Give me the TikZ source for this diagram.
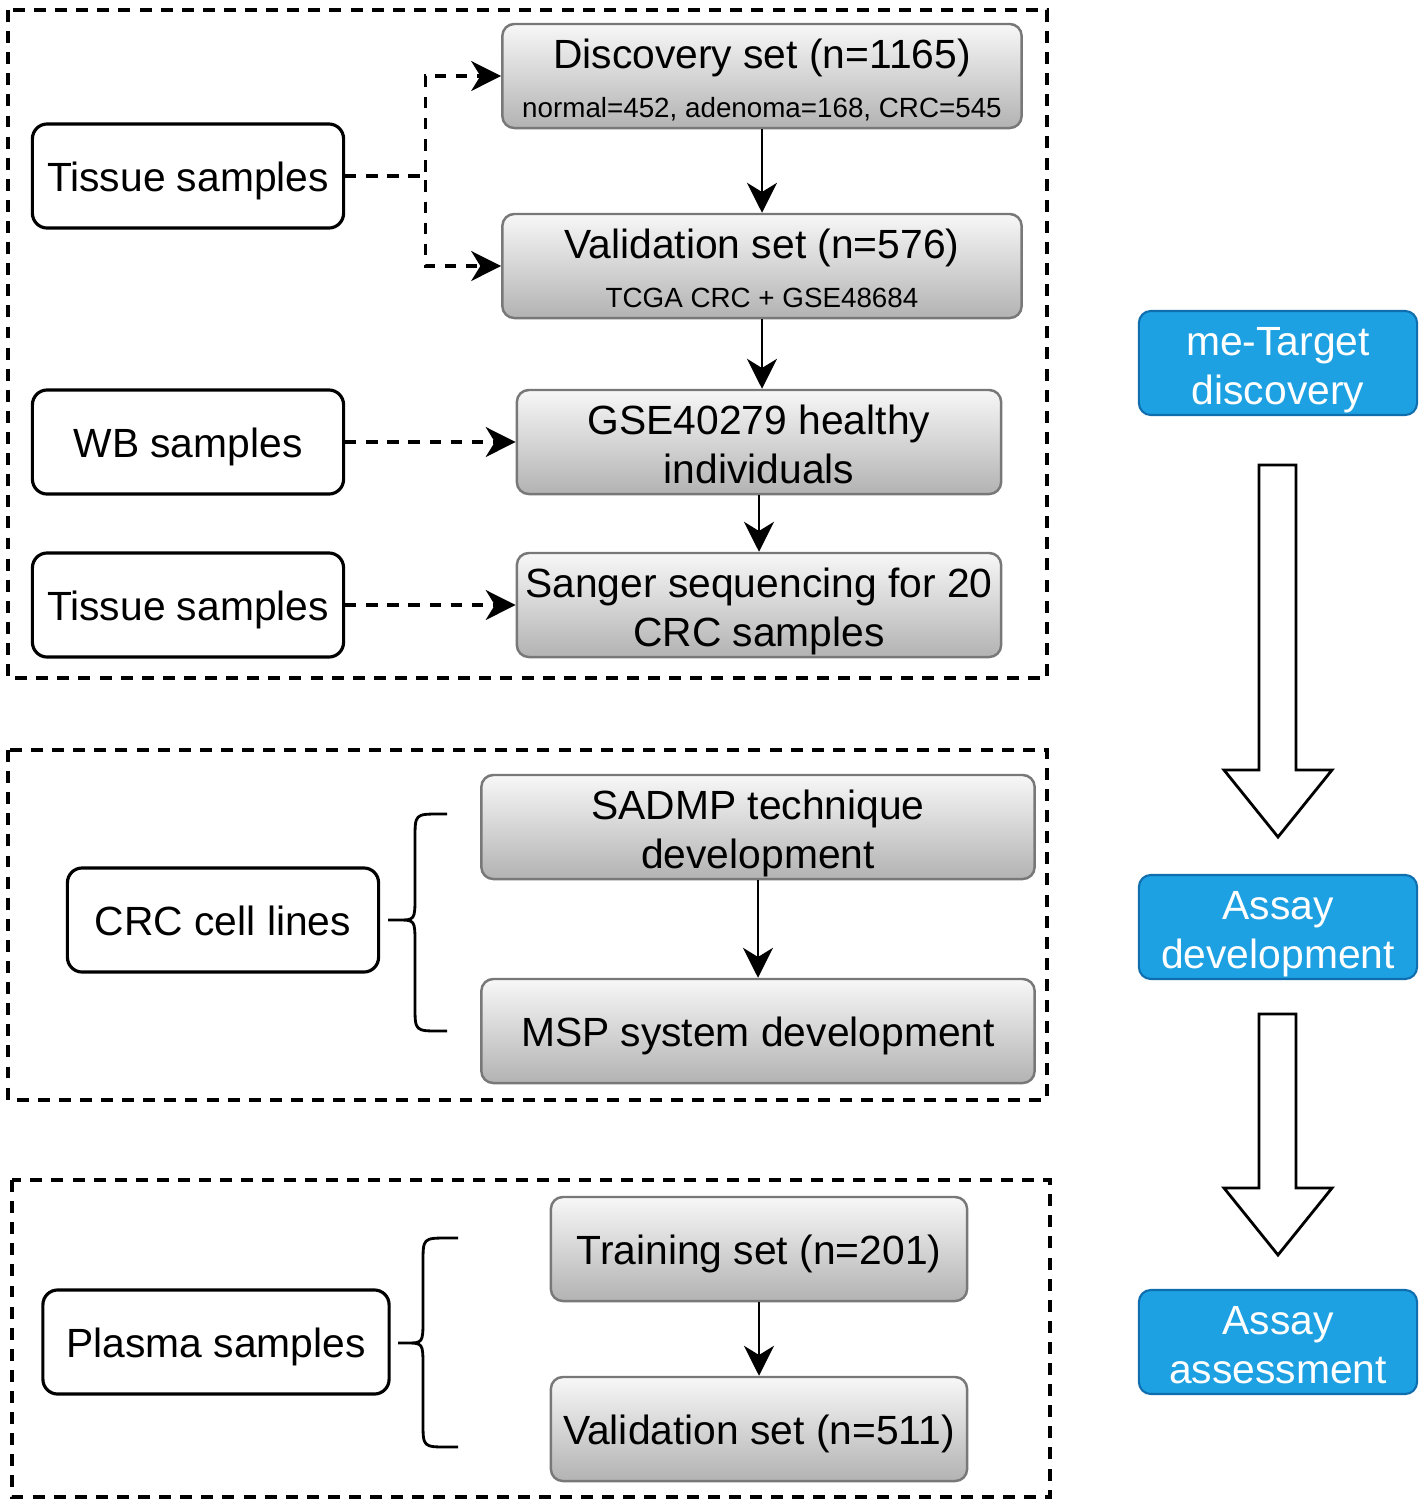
\documentclass[tikz,border=0pt]{standalone}
\usepackage{fontspec}
\setmainfont{Liberation Sans}
\usepackage{tikz}
\usetikzlibrary{arrows.meta, positioning, calc}
\usepackage{xcolor}
\definecolor{stageblue}{RGB}{29,161,226}
\definecolor{stageedge}{RGB}{16,110,175}
\definecolor{setedge}{RGB}{120,120,120}
\newcommand{\subtxt}{\fontsize{7.9}{10}\selectfont}
\newcommand{\boxstrut}{\rule[-2.6pt]{0pt}{14.2pt}}
\newcommand{\tallstrut}{\rule{0pt}{26pt}}
\tikzset{
  boxtext/.style={align=center, execute at begin node=\boxstrut},
  twoline/.style={execute at begin node=\tallstrut, inner ysep=0pt},
  sample/.style={boxtext, draw, line width=0.9pt, rounded corners=4.2pt, fill=white,
    minimum width=3.11cm, minimum height=1.04cm},
  setbox/.style={boxtext, draw=setedge, line width=0.7pt, rounded corners=3.4pt,
    top color=gray!6, bottom color=gray!60, minimum height=1.04cm, inner sep=1pt},
  stage/.style={boxtext, twoline, draw=stageedge, line width=0.6pt, rounded corners=3.4pt,
    fill=stageblue, text=white, minimum width=2.78cm, minimum height=1.04cm},
  frame/.style={line width=1pt, dash pattern=on 3.4pt off 2.6pt},
  link/.style={-{Stealth[length=8.5pt, width=8.5pt, inset=2.6pt]}, line width=0.8pt},
  dlink/.style={link, line width=0.9pt, dash pattern=on 3.2pt off 2.8pt},
  bigarrow/.style={draw, line width=0.8pt, fill=white, line join=miter}
}

\begin{document}
\begin{tikzpicture}[x=0.01cm, y=-0.01cm, font=\fontsize{11.6}{13.7}\selectfont]
  \useasboundingbox (0,0) rectangle (1426,1499);
  % dashed frames
  \draw[frame] (8,10) rectangle (1047,678);
  \draw[frame] (8,750) rectangle (1047,1100);
  \draw[frame] (12,1180) rectangle (1050,1497);

  % sample sources
  \node[sample] (tis1) at (188,176) {Tissue samples};
  \node[sample] (wb) at (188,442) {WB samples};
  \node[sample] (tis2) at (188,605) {Tissue samples};
  \node[sample] (cell) at (223,920) {CRC cell lines};
  \node[sample, minimum width=3.46cm] (plasma) at (216,1342) {Plasma samples};

  % data sets and steps
  \node[setbox, twoline, minimum width=5.19cm] (disc) at (762,76)
    {Discovery set (n=1165)\\{\subtxt normal=452, adenoma=168, CRC=545}};
  \node[setbox, twoline, minimum width=5.19cm] (val) at (762,266)
    {Validation set (n=576)\\{\subtxt TCGA CRC + GSE48684}};
  \node[setbox, twoline, minimum width=4.84cm] (gse) at (759,442) {GSE40279 healthy\\individuals};
  \node[setbox, twoline, minimum width=4.84cm] (sanger) at (759,605) {Sanger sequencing for 20\\CRC samples};
  \node[setbox, twoline, minimum width=5.53cm] (sadmp) at (758,827) {SADMP technique\\development};
  \node[setbox, minimum width=5.53cm] (msp) at (758,1031) {MSP system development};
  \node[setbox, minimum width=4.16cm] (train) at (759,1249) {Training set (n=201)};
  \node[setbox, minimum width=4.16cm] (val2) at (759,1429) {Validation set (n=511)};

  % stages
  \node[stage] (target) at (1278,363) {me-Target\\discovery};
  \node[stage] (assay) at (1278,927) {Assay\\development};
  \node[stage] (assess) at (1278,1342) {Assay\\assessment};

  % connectors
  \draw[dlink] (tis1.east) -- ++(80,0) |- (disc.west);
  \draw[dlink] (tis1.east) -- ++(80,0) |- (val.west);
  \draw[dlink] (wb) -- (gse);
  \draw[dlink] (tis2) -- (sanger);
  \draw[link] (disc) -- (val);
  \draw[link] (val.south) -- (val.south |- gse.north);
  \draw[link] (gse) -- (sanger);
  \draw[link] (sadmp) -- (msp);
  \draw[link] (train) -- (val2);

  % braces
  \draw[line width=0.8pt] (447,814) -- (440,814) .. controls (415,814) .. (415,839)
    -- (415,896) .. controls (415,920) .. (398,920) -- (388,920) -- (398,920)
    .. controls (415,920) .. (415,944) -- (415,1006) .. controls (415,1031) .. (440,1031) -- (447,1031);
  \draw[line width=0.8pt] (458,1238) -- (448,1238) .. controls (423,1238) .. (423,1263)
    -- (423,1319) .. controls (423,1343) .. (406,1343) -- (398,1343) -- (406,1343)
    .. controls (423,1343) .. (423,1367) -- (423,1422) .. controls (423,1447) .. (448,1447) -- (458,1447);

  % block arrows
  \draw[bigarrow] (1259,465) -- (1296,465) -- (1296,770) -- (1332,770) -- (1278,837)
    -- (1224,770) -- (1259,770) -- cycle;
  \draw[bigarrow] (1259,1014) -- (1296,1014) -- (1296,1188) -- (1332,1188) -- (1278,1255)
    -- (1224,1188) -- (1259,1188) -- cycle;
\end{tikzpicture}
\end{document}
